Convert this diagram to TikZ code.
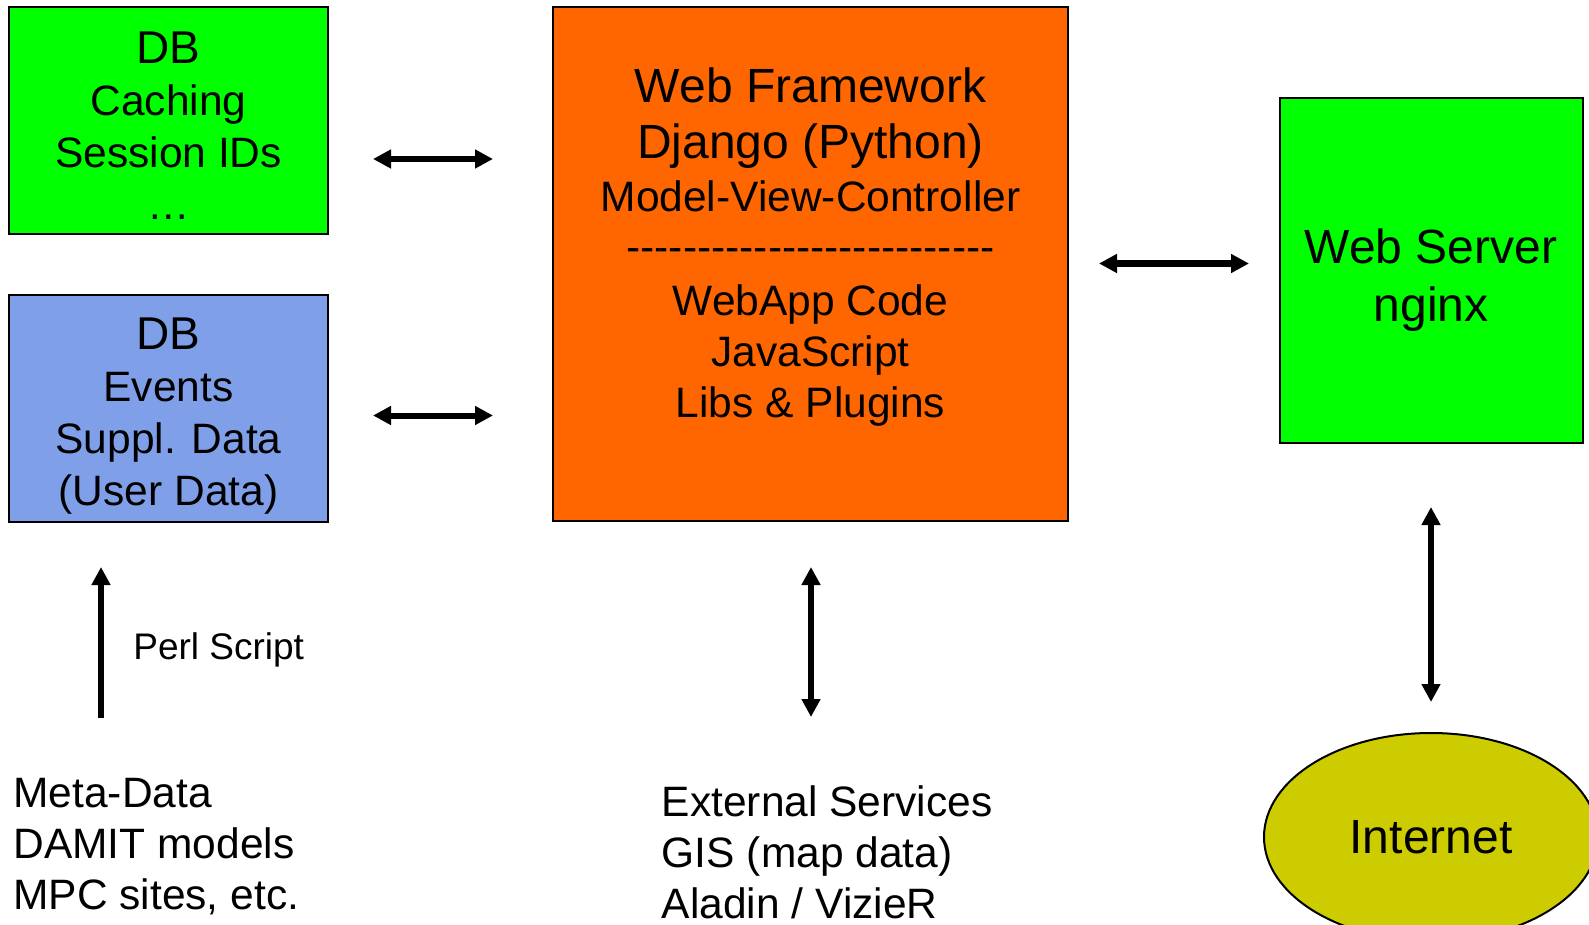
\documentclass[tikz,border=0pt]{standalone}
\usepackage{fontspec}
\setmainfont{Liberation Sans}
\usetikzlibrary{arrows.meta,shapes.geometric}

\definecolor{dbgreen}{HTML}{00FF00}
\definecolor{dbblue}{HTML}{7F9FE8}
\definecolor{fworange}{HTML}{FF6600}
\definecolor{netyellow}{HTML}{CCCC00}

\newcommand\hyphenrule{\foreach \k in {1,...,26}{-}}

\tikzset{
  box/.style={draw, line width=1pt, inner sep=0pt},
  boxtext/.style={font=\fontsize{21.25}{26}\selectfont, align=center, inner sep=0pt},
  plaintext/.style={font=\fontsize{21.25}{25.5}\selectfont, align=left, inner sep=0pt, anchor=north west},
  link/.style={line width=3pt, {Triangle[length=9pt,width=9pt]}-{Triangle[length=9pt,width=9pt]}},
  feed/.style={line width=3pt, -{Triangle[length=9pt,width=9pt]}}
}

\begin{document}
\begin{tikzpicture}[x=0.5pt, y=-0.5pt]
  \useasboundingbox (0, 0) rectangle (1589, 925);

  % databases
  \node [box, fill=dbgreen, minimum width=159.5pt, minimum height=113.5pt] (cache) at (168.5, 120.5) {};
  \node [box, fill=dbblue, minimum width=159.5pt, minimum height=113.5pt] (events) at (168.5, 408.5) {};
  \node [boxtext, anchor=north] (cachetext) at (168.5, 31.5)
    {{\fontsize{23}{26}\selectfont DB}\\Caching\\Session IDs\\…};
  \node [boxtext, anchor=north] (eventstext) at (168.5, 317.5)
    {{\fontsize{23}{26}\selectfont DB}\\Events\\Suppl. Data\\(User Data)};

  % framework
  \node [box, fill=fworange, minimum width=257.5pt, minimum height=257pt] (fw) at (810.5, 264) {};
  \foreach \y/\sz/\txt in {103/24/Web Framework, 159/24/Django (Python),
      212/21.25/Model-View-Controller, 262/21.25/\hyphenrule, 315/21.25/WebApp Code,
      366/21.25/JavaScript, 417/21.25/Libs \& Plugins} {
    \node [anchor=base, inner sep=0pt, font=\fontsize{\sz}{\sz}\selectfont] (fwline\y) at (810.5, \y) {\txt};
  }

  % web server and internet
  \node [box, fill=dbgreen, minimum width=151.5pt, minimum height=172.5pt] (server) at (1431.5, 270.5) {};
  \node [boxtext, anchor=north, font=\fontsize{24}{29}\selectfont] (servertext) at (1431, 228.6)
    {Web Server\\nginx};
  \node [ellipse, draw, line width=1pt, fill=netyellow, inner sep=0pt,
    minimum width=167pt, minimum height=104pt, font=\fontsize{24}{29}\selectfont] (net) at (1431, 837) {Internet};

  % sources
  \node [plaintext] (metadata) at (13, 777.6) {Meta-Data\\DAMIT models\\MPC sites, etc.};
  \node [plaintext] (external) at (661.5, 785.6) {External Services\\GIS (map data)\\Aladin / VizieR};
  \node [anchor=base west, inner sep=0pt, font=\fontsize{18.5}{22}\selectfont] (perl) at (133, 659.5) {Perl Script};

  % arrow ends
  \coordinate (cacheE) at (373, 159);
  \coordinate (fwW1) at (493, 159);
  \coordinate (eventsE) at (373, 415.5);
  \coordinate (fwW2) at (493, 415.5);
  \coordinate (fwE) at (1099, 263.5);
  \coordinate (serverW) at (1249, 263.5);
  \coordinate (fwS) at (811, 567);
  \coordinate (externalN) at (811, 717);
  \coordinate (serverS) at (1431, 507);
  \coordinate (netN) at (1431, 702);
  \coordinate (eventsS) at (101, 567);
  \coordinate (metadataN) at (101, 718);

  \draw [link] (cacheE) -- (fwW1);
  \draw [link] (eventsE) -- (fwW2);
  \draw [link] (fwE) -- (serverW);
  \draw [link] (fwS) -- (externalN);
  \draw [link] (serverS) -- (netN);
  \draw [feed] (metadataN) -- (eventsS);
\end{tikzpicture}
\end{document}
